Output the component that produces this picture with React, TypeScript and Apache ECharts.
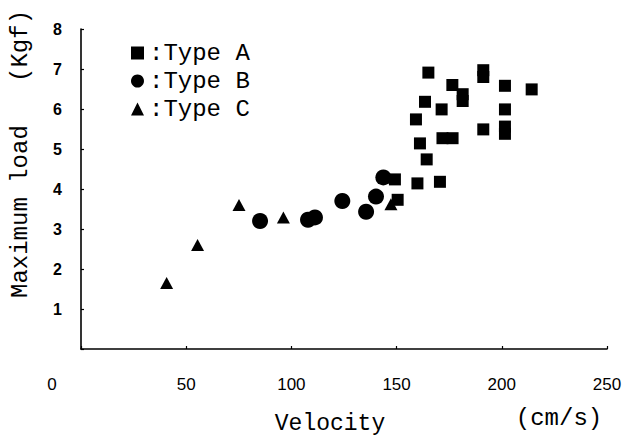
import React, { useEffect, useRef } from "react";
import * as echarts from "echarts";

const xTicks = [0, 50, 100, 150, 200, 250];
const yTicks = [1, 2, 3, 4, 5, 6, 7, 8];

const typeAVelocity = [165.1, 191.2, 191.2, 176.5, 201.5, 214.2, 163.5, 181.4, 181.4, 171.4, 201.5, 159.2, 191.2, 201.5, 201.5, 161.1, 171.8, 176.6, 164.3, 159.9, 170.6, 149.2, 150.5];
const typeALoad = [6.91, 6.97, 6.8, 6.6, 6.58, 6.49, 6.18, 6.37, 6.2, 5.99, 5.99, 5.74, 5.49, 5.56, 5.38, 5.14, 5.27, 5.27, 4.74, 4.14, 4.18, 4.24, 3.73];

const typeBVelocity = [85.1, 107.9, 111.2, 124.2, 135.5, 140.2, 143.7];
const typeBLoad = [3.2, 3.23, 3.29, 3.7, 3.43, 3.81, 4.29];

const typeCVelocity = [40.7, 55.4, 75.1, 96.2, 147.3];
const typeCLoad = [1.65, 2.6, 3.6, 3.29, 3.62];

const seriesNames = ["Type A", "Type B", "Type C"];
const xName = "Velocity";
const xUnit = "(cm/s)";
const yName = "Maximum load   (Kgf)";

const pairs = (xs: number[], ys: number[]) => xs.map((x, i) => [x, ys[i]]);

export default function App() {
  const ref = useRef<HTMLDivElement>(null);
  useEffect(() => {
    if (!ref.current) return;
    const chart = echarts.init(ref.current, null, { renderer: "svg" });
    const mono = "'Liberation Mono', 'Courier New', monospace";
    const sans = "'Liberation Sans', Arial, sans-serif";
    const mark = { color: "#000", opacity: 1 };
    chart.setOption({
      animation: false,
      backgroundColor: "#ffffff",
      grid: { left: 81, right: 18, top: 29, bottom: 89, containLabel: false },
      legend: {
        orient: "vertical",
        left: 126,
        top: 36,
        itemWidth: 13,
        itemHeight: 13,
        itemGap: 4,
        formatter: (n: string) => ":" + n,
        textStyle: { fontFamily: mono, fontSize: 24, color: "#000" },
        data: [
          { name: seriesNames[0], icon: "rect", itemStyle: mark },
          { name: seriesNames[1], icon: "circle", itemStyle: mark },
          { name: seriesNames[2], icon: "triangle", itemStyle: mark },
        ],
      },
      xAxis: {
        type: "value",
        min: xTicks[0],
        max: xTicks[xTicks.length - 1],
        interval: 50,
        splitLine: { show: false },
        axisLine: { show: true, onZero: false, lineStyle: { color: "#000", width: 1.6 } },
        axisTick: { show: true, inside: true, length: 3, lineStyle: { color: "#000", width: 1.2 } },
        axisLabel: {
          margin: 27,
          fontFamily: sans,
          fontSize: 17,
          color: "#000",
          formatter: (v: number) => (v === 0 ? "{z|0}" : String(v)),
          rich: { z: { fontFamily: sans, fontSize: 17, color: "#000", padding: [0, 58, 0, 0] } },
        },
      },
      yAxis: {
        type: "value",
        min: 0,
        max: yTicks[yTicks.length - 1],
        interval: 1,
        splitLine: { show: false },
        axisLine: { show: true, onZero: false, lineStyle: { color: "#000", width: 1.6 } },
        axisTick: { show: true, inside: true, length: 3, lineStyle: { color: "#000", width: 1.2 } },
        axisLabel: {
          margin: 19,
          fontFamily: sans,
          fontSize: 16,
          fontWeight: "bold",
          color: "#000",
          formatter: (v: number) => (v === 0 ? "" : String(v)),
        },
      },
      graphic: [
        {
          type: "text",
          x: 330,
          y: 424,
          style: { text: xName, font: `23px ${mono}`, fill: "#000", align: "center", verticalAlign: "middle" },
        },
        {
          type: "text",
          x: 559,
          y: 418,
          style: { text: xUnit, font: `24px ${mono}`, fill: "#000", align: "center", verticalAlign: "middle" },
        },
        {
          type: "text",
          x: 20,
          y: 154,
          rotation: Math.PI / 2,
          style: { text: yName, font: `24px ${mono}`, fill: "#000", align: "center", verticalAlign: "middle" },
        },
      ],
      series: [
        {
          name: seriesNames[0],
          type: "scatter",
          symbol: "rect",
          symbolSize: 12,
          itemStyle: mark,
          data: pairs(typeAVelocity, typeALoad),
        },
        {
          name: seriesNames[1],
          type: "scatter",
          symbol: "circle",
          symbolSize: 16,
          itemStyle: mark,
          data: pairs(typeBVelocity, typeBLoad),
        },
        {
          name: seriesNames[2],
          type: "scatter",
          symbol: "triangle",
          symbolSize: [13, 12],
          itemStyle: mark,
          data: pairs(typeCVelocity, typeCLoad),
        },
      ],
    });
    return () => chart.dispose();
  }, []);
  return <div ref={ref} style={{ position: "absolute", left: 0, top: 0, width: 625, height: 438 }} />;
}
